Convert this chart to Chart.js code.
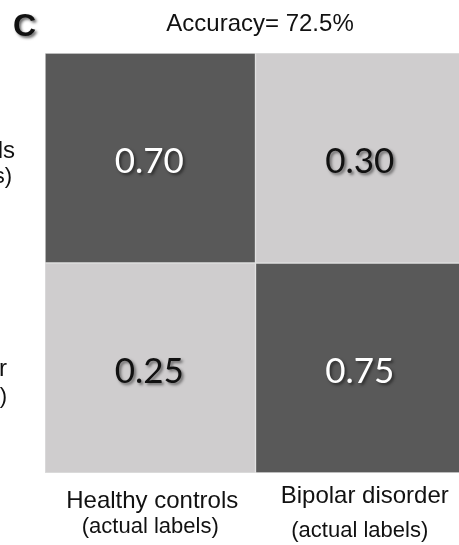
<!DOCTYPE html>
<html>
<head>
<meta charset="utf-8">
<script src="https://cdn.jsdelivr.net/npm/chart.js@4/dist/chart.umd.min.js"></script>
<style>
  html, body { margin: 0; padding: 0; background: #ffffff; overflow: hidden; }
  #wrap { position: relative; width: 459px; height: 545px; overflow: hidden; }
</style>
</head>
<body>
<div id="wrap"><canvas id="cm" width="467" height="545"></canvas></div>
<script>
// Confusion matrix: columns are the actual class, rows the predicted class.
const actualLabels = ['Healthy controls', 'Bipolar disorder'];
const predictedLabels = ['Healthy controls', 'Bipolar disorder'];
const predictedHealthyRates = [0.70, 0.30];   // top row
const predictedBipolarRates = [0.25, 0.75];   // bottom row
const actualSuffix = '(actual labels)';
const predictedSuffix = '(predicted labels)';
const panelLetter = 'C';

const rows = [predictedHealthyRates, predictedBipolarRates];
const nRows = rows.length;

// Overall accuracy = mean of the diagonal rates.
const accuracy = rows.reduce((s, r, i) => s + r[i], 0) / nRows;

const DARK = '#595959';
const LIGHT = '#cfcdce';

const datasets = rows.map((rates, r) => ({
  label: predictedLabels[r],
  rates: rates,
  // each row occupies one unit band of the y scale, top row first
  data: rates.map(() => [nRows - 1 - r, nRows - r]),
  backgroundColor: rates.map(v => v >= 0.5 ? DARK : LIGHT),
  borderColor: '#dedede',
  borderWidth: 1,
  borderSkipped: false,
  grouped: false,
  barPercentage: 1,
  categoryPercentage: 1
}));

const cellText = {
  id: 'cellText',
  afterDatasetsDraw(chart) {
    const ctx = chart.ctx;
    ctx.save();
    ctx.font = '35px Lato';
    ctx.textAlign = 'center';
    ctx.textBaseline = 'alphabetic';
    chart.data.datasets.forEach((ds, di) => {
      const meta = chart.getDatasetMeta(di);
      meta.data.forEach((bar, i) => {
        const v = ds.rates[i];
        const cy = (bar.y + bar.base) / 2;
        ctx.shadowColor = 'rgba(0,0,0,0.5)';
        ctx.shadowBlur = 3;
        ctx.shadowOffsetX = 2;
        ctx.shadowOffsetY = 2;
        ctx.fillStyle = v >= 0.5 ? '#ffffff' : '#111111';
        ctx.fillText(v.toFixed(2), bar.x - 1, cy + 14.5);
      });
    });
    ctx.restore();
  }
};

const frameText = {
  id: 'frameText',
  afterDraw(chart) {
    const ctx = chart.ctx;
    const xs = chart.scales.x;
    const ys = chart.scales.y;
    const area = chart.chartArea;
    ctx.save();
    ctx.fillStyle = '#111111';

    // panel letter
    ctx.save();
    ctx.font = 'bold 32px "Liberation Sans"';
    ctx.textAlign = 'left';
    ctx.shadowColor = 'rgba(0,0,0,0.6)';
    ctx.shadowBlur = 3;
    ctx.shadowOffsetX = 2;
    ctx.shadowOffsetY = 2;
    ctx.fillText(panelLetter, 13, 36);
    ctx.restore();

    // accuracy title
    ctx.font = '24px "Liberation Sans"';
    ctx.textAlign = 'center';
    ctx.fillText('Accuracy= ' + (accuracy * 100).toFixed(1) + '%', (area.left + area.right) / 2 + 4.5, 31);

    // actual-class labels under the columns
    const xOff = [[2, 0], [4, -1]];
    const xBase = [[508, 533], [503, 537]];
    actualLabels.forEach((lab, i) => {
      const cx = xs.getPixelForValue(i);
      ctx.font = '24px "Liberation Sans"';
      ctx.fillText(lab, cx + xOff[i][0], xBase[i][0]);
      ctx.font = '22px "Liberation Sans"';
      ctx.fillText(actualSuffix, cx + xOff[i][1], xBase[i][1]);
    });

    // predicted-class labels left of the rows
    ctx.textAlign = 'right';
    const yRight = [[15, 12], [7, 7]];
    const yBase = [[-0.5, 24.5], [7.5, 34.5]];
    predictedLabels.forEach((lab, r) => {
      const cy = ys.getPixelForValue(nRows - 0.5 - r);
      ctx.font = '24px "Liberation Sans"';
      ctx.fillText(lab, yRight[r][0], cy + yBase[r][0]);
      ctx.font = '22px "Liberation Sans"';
      ctx.fillText(predictedSuffix, yRight[r][1], cy + yBase[r][1]);
    });
    ctx.restore();
  }
};

new Chart(document.getElementById('cm'), {
  type: 'bar',
  data: { labels: actualLabels, datasets: datasets },
  options: {
    responsive: false,
    animation: false,
    layout: { padding: { left: 45, top: 53, right: 1, bottom: 72 } },
    plugins: { legend: { display: false }, tooltip: { enabled: false }, title: { display: false } },
    scales: {
      x: { type: 'category', display: false, offset: true },
      y: { type: 'linear', min: 0, max: nRows, display: false }
    }
  },
  plugins: [cellText, frameText]
});
</script>
</body>
</html>
